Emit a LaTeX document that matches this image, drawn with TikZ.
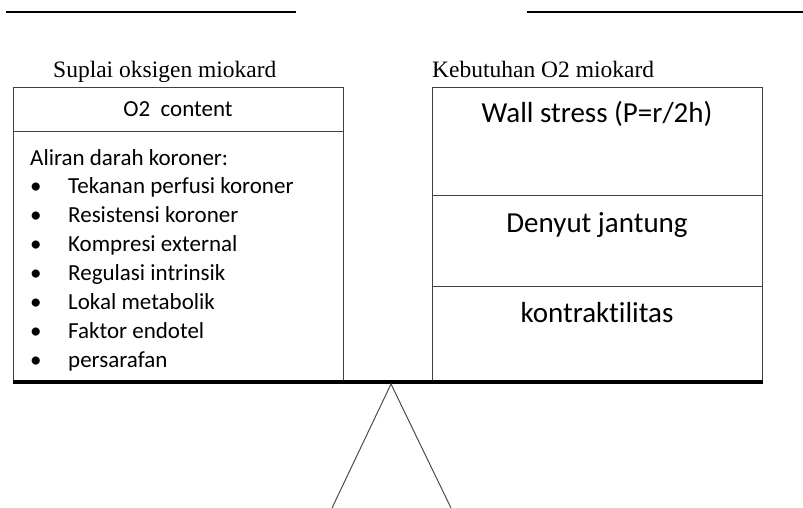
\documentclass[tikz,border=0pt]{standalone}
\usepackage{fontspec}
\setmainfont{Liberation Serif}
\newfontfamily\calibri[Ligatures=NoCommon]{Carlito}
\usetikzlibrary{positioning}

\tikzset{
  box/.style={draw=black!75, line width=0.9pt, inner sep=0pt, minimum width=330pt, anchor=north west},
  title/.style={inner sep=0pt, anchor=base west, font=\fontsize{23.5}{27}\selectfont},
  small/.style={inner sep=0pt, anchor=base, font=\calibri\fontsize{23}{27}\selectfont},
  big/.style={inner sep=0pt, anchor=base, font=\calibri\fontsize{29}{33}\selectfont},
  item/.style={inner sep=0pt, anchor=base west, font=\calibri\fontsize{23}{27}\selectfont},
}

\begin{document}
\begin{tikzpicture}[x=1pt, y=-1pt]
    \useasboundingbox (0,0) rectangle (803,508);
    % Top rules
    \draw[line width=1.2pt] (6,12) -- (296,12);
    \draw[line width=1.2pt] (527,12) -- (803,12);

    % Supply side
    \node[title] (suplai) at (53,78) {Suplai oksigen miokard};
    \node[box, minimum height=44pt] (content) at (13,87) {};
    \node[small] (contenttext) at (178,117) {O2\ \ content};
    \node[box, minimum height=250pt] (aliran) at (13,131) {};
    \node[item] (aliranhead) at (30,165) {Aliran darah koroner:};
    \foreach \txt [count=\i] in {Tekanan perfusi koroner, Resistensi koroner,
        Kompresi external, Regulasi intrinsik, Lokal metabolik,
        Faktor endotel, persarafan}
    {
        \node[item] (bullet\i) at (30,{165+28.9*\i}) {\textbullet};
        \node[item] (faktor\i) at (68,{165+28.9*\i}) {\txt};
    }

    % Demand side
    \node[title] (kebutuhan) at (432,78) {Kebutuhan O2 miokard};
    \node[box, minimum height=108pt] (wall) at (432,87) {};
    \node[big] (walltext) at (597,123) {Wall stress (P=r/2h)};
    \node[box, minimum height=91pt] (denyut) at (432,195) {};
    \node[big] (denyuttext) at (597,232) {Denyut jantung};
    \node[box, minimum height=95pt] (kontrak) at (432,286) {};
    \node[big] (kontraktext) at (597,322) {kontraktilitas};

    % Balance beam and fulcrum
    \draw[line width=3.5pt] (aliran.south west) -- (kontrak.south east);
    \coordinate (apex) at (391,384);
    \draw[black!70, line width=1pt] (332,508) -- (apex) -- (451,508);
\end{tikzpicture}
\end{document}
